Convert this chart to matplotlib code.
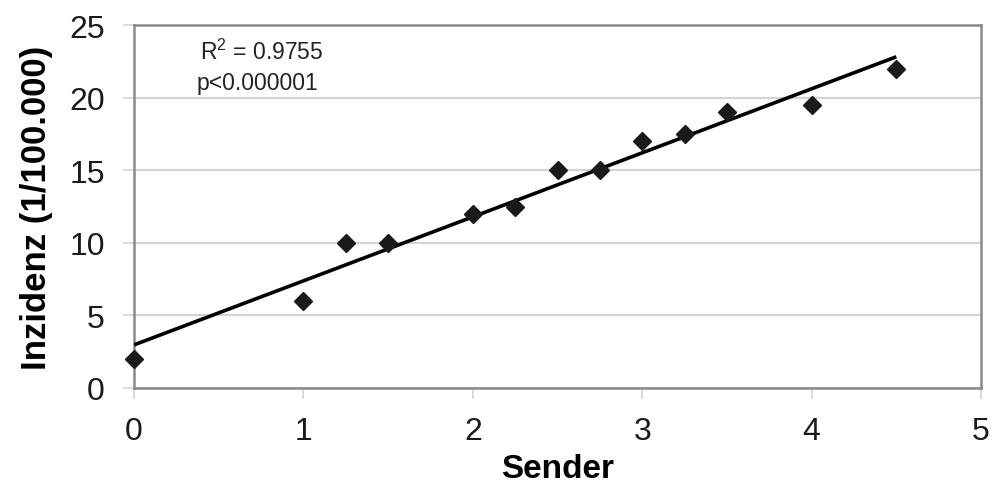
"""
Incidence versus number of transmitters, with a linear trend line.
"""
import matplotlib
matplotlib.use("Agg")
import matplotlib.pyplot as plt
import numpy as np

plt.rcParams["font.family"] = ["Liberation Sans", "DejaVu Sans"]
plt.rcParams["mathtext.fontset"] = "custom"
plt.rcParams["mathtext.rm"] = "Liberation Sans"

# data
sender = [0, 1, 1.25, 1.5, 2, 2.25, 2.5, 2.75, 3, 3.25, 3.5, 4, 4.5]
inzidenz = [2, 6, 10, 10, 12, 12.5, 15, 15, 17, 17.5, 19, 19.5, 22]
x_ticks = [0, 1, 2, 3, 4, 5]
y_ticks = [0, 5, 10, 15, 20, 25]
r2_text = r"R$^\mathrm{2}$ = 0.9755"
p_text = "p<0.000001"

GRID = "#d4d4d4"
FRAME = "#8a8a8a"

if __name__ == "__main__":
    fig = plt.figure(figsize=(9.97, 4.89), dpi=100)
    ax = fig.add_axes([0.1344, 0.2045, 0.8496, 0.7423])

    # trend line from a least squares fit of the points
    slope, icpt = np.polyfit(sender, inzidenz, 1)
    fit_x = np.array([min(sender), max(sender)])
    ax.plot(fit_x, slope * fit_x + icpt, color="black", lw=2.6,
            solid_capstyle="butt", zorder=3)

    ax.plot(sender, inzidenz, linestyle="none", marker="D", markersize=9.5,
            color="#1a1a1a", zorder=4, clip_on=False)

    ax.set_xlim(0, 5)
    ax.set_ylim(0, 25)
    ax.set_xticks(x_ticks)
    ax.set_yticks(y_ticks)
    ax.yaxis.grid(True, color=GRID, lw=1.6)
    ax.set_axisbelow(True)

    for side in ax.spines.values():
        side.set_color(FRAME)
        side.set_linewidth(1.8)

    ax.tick_params(axis="both", which="major", length=8, width=1.2,
                   color=GRID, labelsize=23, labelcolor="#1a1a1a")
    ax.tick_params(axis="x", pad=12)
    ax.tick_params(axis="y", pad=13)

    ax.set_xlabel("Sender", fontsize=24, fontweight="bold", labelpad=5)
    ax.set_ylabel("Inzidenz (1/100.000)", fontsize=25, fontweight="bold",
                  labelpad=12)

    ax.text(0.39, 22.65, r2_text, fontsize=16.5, color="#222222",
            va="baseline")
    ax.text(0.37, 20.6, p_text, fontsize=16.5, color="#222222",
            va="baseline")

    fig.savefig("out.png", dpi=100)
